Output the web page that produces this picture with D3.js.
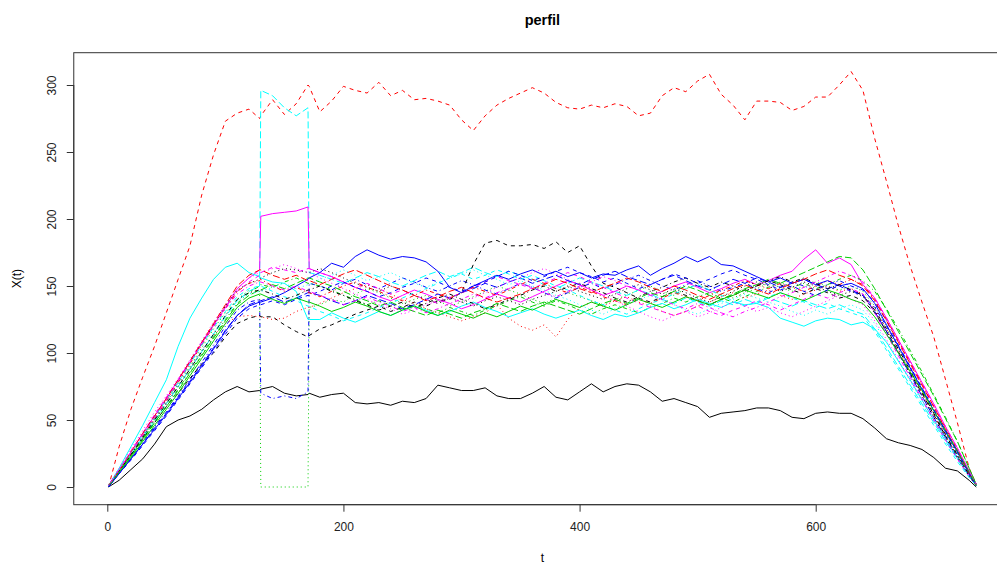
<!DOCTYPE html>
<html>
<head>
<meta charset="utf-8">
<script src="https://cdn.jsdelivr.net/npm/d3@7"></script>
<style>
  html, body { margin: 0; padding: 0; background: #fff; }
  svg { display: block; }
  text { font-family: "Liberation Sans", Arial, sans-serif; }
</style>
</head>
<body>
<svg id="chart" width="997" height="567"></svg>
<script>
// sampling times shared by every path
const tGrid = [1,10,20,30,40,50,60,70,80,90,100,110,120,
  129,130,140,150,160,170,171,
  180,190,200,210,220,230,240,250,260,270,280,290,300,310,320,330,340,350,360,370,
  380,390,400,410,420,430,440,450,460,470,480,490,500,510,520,530,540,550,560,570,
  580,590,600,610,620,630,640,
  650,660,670,680,690,700,710,720,730,736];

const xTicks = [0, 200, 400, 600];
const yTicks = [0, 50, 100, 150, 200, 250, 300];

const path01 = [0,5,13,21,32,45,50,53,58,65,71,75,71,
  72,73,75,70,68,69,70,
  67,69,70,63,62,63,61,64,63,66,76,74,72,72,74,68,66,66,70,75,
  67,65,71,77,71,75,77,76,71,64,66,63,60,52,55,56,57,59,59,57,
  52,51,55,56,55,55,51,
  44,36,33,31,28,22,14,12,5,0];
const path02 = [0,30,58,82,105,130,155,180,218,248,273,279,282,
  275,277,289,278,286,300,299,
  280,288,299,296,294,302,292,296,289,290,288,285,274,266,277,285,290,294,298,294,
  287,283,282,285,283,286,284,277,279,292,298,295,303,308,293,285,274,288,288,287,
  281,284,291,291,300,310,296,
  260,228,195,165,138,112,80,48,14,2];
const path03 = [1,11,24,37,50,63,77,90,104,118,130,140,147,
  146,0,0,0,0,0,134,
  136,140,138,144,148,145,141,137,140,143,139,135,138,142,146,150,147,144,140,137,
  141,145,142,139,136,140,143,147,150,146,143,148,151,147,144,141,145,148,152,149,
  146,150,153,150,147,150,146,
  135,120,104,88,72,56,40,25,10,1];
const path04 = [0,10,21,33,45,56,68,80,93,106,120,132,138,
  140,70,66,68,66,71,152,
  150,147,152,155,151,148,152,156,153,149,146,150,154,151,147,144,148,152,149,145,
  141,145,149,152,148,151,155,158,154,150,147,151,154,150,146,149,152,148,145,149,
  153,150,147,151,154,150,147,
  138,124,106,90,74,58,42,27,11,2];
const path05 = [1,12,24,37,49,62,75,88,101,114,127,139,146,
  150,296,292,283,277,283,160,
  158,155,152,156,160,157,153,150,154,158,161,157,160,164,160,157,161,158,155,151,
  148,152,156,153,150,146,143,147,144,140,137,141,138,135,139,136,140,137,141,138,
  135,139,136,133,136,132,129,
  118,104,90,76,62,48,34,21,8,1];
const path06 = [1,13,26,40,53,66,80,93,107,121,134,148,156,
  162,202,204,205,206,209,163,
  160,157,153,149,146,142,139,143,147,144,140,137,133,136,140,144,141,138,142,146,
  150,154,151,147,143,146,150,147,143,146,150,153,149,145,148,152,155,151,154,158,
  161,170,177,167,171,166,151,
  141,126,110,94,78,62,45,29,12,2];
const path07 = [0,12,24,36,48,60,70,81,92,100,112,122,126,
  128,127,127,121,116,112,113,
  118,121,125,129,132,135,131,134,138,135,139,140,145,166,182,184,180,180,181,178,
  183,175,180,165,152,149,145,141,138,142,146,143,139,136,140,143,147,150,154,151,
  147,144,148,145,141,143,139,
  130,116,101,85,70,54,38,23,9,1];
const path08 = [1,12,25,38,51,63,76,89,102,113,122,127,128,
  127,127,125,126,131,134,134,
  137,141,145,148,151,148,144,140,137,133,130,127,124,127,130,136,126,120,117,121,
  112,125,134,138,135,139,142,138,135,131,128,131,135,138,142,145,141,144,147,143,
  140,144,147,150,146,148,144,
  133,118,102,86,70,54,38,23,9,1];
const path09 = [1,11,23,36,48,60,73,86,99,112,125,137,145,
  150,151,149,153,156,152,152,
  150,147,143,140,136,139,135,132,136,133,130,134,131,128,132,135,139,142,138,135,
  139,136,132,129,133,136,133,130,134,137,141,138,142,145,141,138,142,146,149,153,
  149,152,148,151,155,158,154,
  146,133,118,102,86,69,52,34,14,2];
const path10 = [0,10,21,32,44,55,67,79,91,104,117,128,136,
  139,139,142,138,141,145,145,
  143,139,136,139,143,140,137,133,136,140,144,141,145,148,152,149,153,156,152,155,
  158,154,151,155,158,161,157,154,151,155,158,154,150,147,151,155,152,156,153,149,
  152,155,151,148,151,147,143,
  131,116,100,84,68,52,37,22,8,1];
const path11 = [1,14,30,46,63,80,105,126,141,155,164,167,160,
  157,156,153,152,146,125,125,
  125,130,126,123,127,131,128,132,135,132,128,131,135,138,134,131,127,130,133,129,
  126,129,132,128,125,129,127,130,134,137,133,136,140,137,134,138,136,137,134,126,
  123,120,124,126,125,121,123,
  118,108,94,80,65,50,36,22,8,1];
const path12 = [1,13,27,40,54,67,80,94,108,121,134,146,153,
  158,160,164,162,160,163,163,
  160,157,153,149,152,148,144,147,143,140,137,141,145,149,153,157,154,151,148,152,
  156,160,157,153,149,145,141,137,134,131,128,131,135,131,128,132,135,139,136,132,
  136,140,144,141,145,148,144,
  130,114,98,82,66,50,35,21,8,1];
const path13 = [1,12,25,38,52,65,79,93,107,121,135,147,152,
  155,156,160,163,162,160,160,
  163,160,156,152,149,146,150,147,143,140,137,141,138,135,139,142,139,136,140,143,
  146,150,146,143,140,144,148,151,147,144,148,145,141,138,142,146,150,153,150,146,
  149,153,150,146,143,146,142,
  131,116,100,84,68,52,37,22,8,1];
const path14 = [1,12,25,38,51,64,78,92,106,120,133,146,152,
  154,155,150,146,149,145,145,
  142,146,150,153,149,146,142,139,143,147,144,141,145,149,146,143,147,151,155,152,
  148,145,149,146,142,139,136,140,137,141,145,142,139,143,147,150,154,151,148,152,
  149,146,150,154,151,155,151,
  140,125,109,93,77,60,44,28,11,1];
const path15 = [1,11,23,35,48,60,72,85,98,111,124,136,143,
  147,147,151,148,152,156,156,
  153,150,146,142,139,135,138,134,131,128,132,129,126,130,133,137,134,131,135,138,
  135,132,129,133,137,140,137,141,145,142,146,150,147,143,140,144,148,151,155,152,
  156,160,164,168,172,171,162,
  148,132,116,100,84,68,51,34,14,2];
const path16 = [0,10,21,32,43,54,66,78,90,103,116,128,135,
  138,138,141,145,150,155,156,
  160,167,164,172,177,173,170,172,171,168,161,149,145,150,154,158,155,159,162,158,
  161,157,160,156,159,158,162,165,158,163,167,172,168,172,166,165,161,157,153,156,
  152,155,151,154,150,152,148,
  137,121,105,89,73,57,41,26,10,1];
const path17 = [1,13,26,39,52,65,78,92,106,119,131,142,148,
  150,150,146,142,139,135,135,
  131,128,124,127,130,134,137,141,145,148,152,156,159,155,158,162,159,155,158,154,
  150,147,143,139,136,132,129,133,137,140,144,148,151,147,143,139,135,138,142,145,
  141,138,134,137,133,130,127,
  116,102,88,74,60,46,32,19,7,1];
const path18 = [1,14,28,42,56,68,81,95,109,123,136,148,156,
  160,160,163,166,163,160,160,
  156,152,148,144,140,136,133,129,132,136,139,142,138,141,145,149,153,156,160,163,
  159,155,151,147,143,139,135,131,127,124,128,131,127,130,134,138,135,131,134,130,
  127,131,135,139,143,140,136,
  124,110,95,80,65,50,35,21,8,1];
const path19 = [1,12,24,37,50,62,75,88,101,114,128,140,145,
  147,147,144,140,143,147,147,
  150,146,143,139,136,132,135,138,134,137,141,144,140,137,133,136,140,143,147,150,
  146,149,152,148,145,141,138,142,146,149,153,156,152,149,153,150,146,150,154,157,
  153,156,152,148,151,147,143,
  132,118,103,87,71,55,39,24,9,1];
const path20 = [1,12,26,40,53,66,80,94,108,122,136,150,158,
  162,162,158,155,158,154,154,
  151,155,159,162,158,154,150,147,143,139,142,146,149,145,141,138,141,144,148,151,
  155,152,148,145,149,152,156,153,149,146,150,147,143,140,144,148,151,147,144,148,
  152,155,159,162,158,155,150,
  139,124,108,92,76,60,43,27,10,1];
const path21 = [0,11,22,34,46,58,70,83,96,109,122,134,141,
  144,144,140,137,141,138,138,
  135,131,134,138,135,131,128,132,135,131,128,132,129,126,130,127,131,135,132,136,
  140,137,134,138,135,132,136,140,137,134,138,142,139,136,140,143,147,144,141,145,
  142,139,143,147,144,140,137,
  127,114,100,86,72,57,42,27,11,1];
const path22 = [0,10,20,31,42,53,65,77,89,101,114,126,133,
  136,136,139,136,140,143,143,
  146,150,153,149,146,142,145,149,152,156,153,149,146,150,153,157,161,158,154,157,
  161,164,160,157,153,156,152,148,151,155,159,156,152,155,159,162,158,155,151,147,
  150,146,143,147,150,146,143,
  134,120,105,89,74,58,42,26,10,1];
const path23 = [1,12,25,38,51,63,76,89,102,115,128,139,144,
  146,146,149,152,148,151,151,
  155,158,162,158,154,157,160,156,152,149,153,156,159,162,158,155,151,154,150,147,
  143,140,136,132,129,133,136,140,143,139,136,132,129,133,137,140,144,141,138,135,
  131,128,132,129,133,136,132,
  122,108,94,79,64,49,35,21,8,1];
const path24 = [1,13,26,39,52,65,79,93,107,120,133,144,150,
  153,153,150,147,150,146,146,
  143,140,136,139,142,138,135,131,134,130,133,137,140,144,141,145,148,152,149,145,
  142,146,150,153,157,154,150,147,143,140,136,133,137,134,130,127,131,134,138,142,
  145,149,153,157,161,158,153,
  141,126,110,94,78,62,45,29,12,2];

const paths = [path01,path02,path03,path04,path05,path06,path07,path08,
  path09,path10,path11,path12,path13,path14,path15,path16,
  path17,path18,path19,path20,path21,path22,path23,path24];

// base graphics palette and line types, cycled per column like matplot
const palette = ["#000000", "#FF0000", "#00CD00", "#0000FF", "#00FFFF", "#FF00FF"];
const dashes = [null, "4,4", "1,3", "1,3,4,3", "7,3"];

const svg = d3.select("#chart");

const x = d3.scaleLinear().domain([0, 600]).range([107.3, 815.7]);
const y = d3.scaleLinear().domain([0, 300]).range([487, 85]);

const xLo = -28.4, xHi = 765.4, yLo = -13.2, yHi = 324.1;

// series, first column drawn first
const line = d3.line().x((d, i) => x(tGrid[i])).y(d => y(d));
const g = svg.append("g");
paths.forEach((p, k) => {
  g.append("path")
    .attr("d", line(p))
    .attr("fill", "none")
    .attr("stroke", palette[k % 6])
    .attr("stroke-width", 1)
    .attr("stroke-dasharray", dashes[k % 5])
    .attr("stroke-linejoin", "round");
});

// plot frame
svg.append("rect")
  .attr("x", x(xLo)).attr("y", y(yHi))
  .attr("width", x(xHi) - x(xLo)).attr("height", y(yLo) - y(yHi))
  .attr("fill", "none").attr("stroke", "#333").attr("stroke-width", 1);

// bottom axis
const xAxis = d3.axisBottom(x).tickValues(xTicks).tickSize(7).tickPadding(11).tickFormat(d3.format("d"));
const gx = svg.append("g").attr("transform", `translate(0,${y(yLo)})`).call(xAxis);
gx.select(".domain").attr("d", `M${x(xTicks[0])},0H${x(xTicks[xTicks.length - 1])}`).attr("stroke", "#333");
gx.selectAll(".tick line").attr("stroke", "#333");
gx.selectAll(".tick text").attr("font-size", 12).attr("fill", "#222")
  .style("font-family", "'Liberation Sans', Arial, sans-serif");

// left axis, labels parallel to the axis
const yAxis = d3.axisLeft(y).tickValues(yTicks).tickSize(7).tickFormat(d3.format("d"));
const gy = svg.append("g").attr("transform", `translate(${x(xLo)},0)`).call(yAxis);
gy.select(".domain").attr("d", `M0,${y(yTicks[0])}V${y(yTicks[yTicks.length - 1])}`).attr("stroke", "#333");
gy.selectAll(".tick line").attr("stroke", "#333");
gy.selectAll(".tick text")
  .attr("font-size", 12).attr("fill", "#222")
  .style("font-family", "'Liberation Sans', Arial, sans-serif")
  .attr("x", null).attr("dy", null)
  .attr("text-anchor", "middle")
  .attr("transform", "translate(-22,0) rotate(-90)")
  .attr("dy", "0.35em");

const cx = (x(xLo) + x(xHi)) / 2;
const cy = (y(yLo) + y(yHi)) / 2;

svg.append("text").attr("x", cx).attr("y", 25)
  .attr("text-anchor", "middle").attr("font-size", 14.5).attr("font-weight", "bold")
  .attr("fill", "#000").text("perfil");

svg.append("text").attr("x", cx).attr("y", 562)
  .attr("text-anchor", "middle").attr("font-size", 12).attr("fill", "#000").text("t");

svg.append("text")
  .attr("transform", `translate(21,${cy}) rotate(-90)`)
  .attr("text-anchor", "middle").attr("font-size", 12).attr("fill", "#000").text("X(t)");
</script>
</body>
</html>
